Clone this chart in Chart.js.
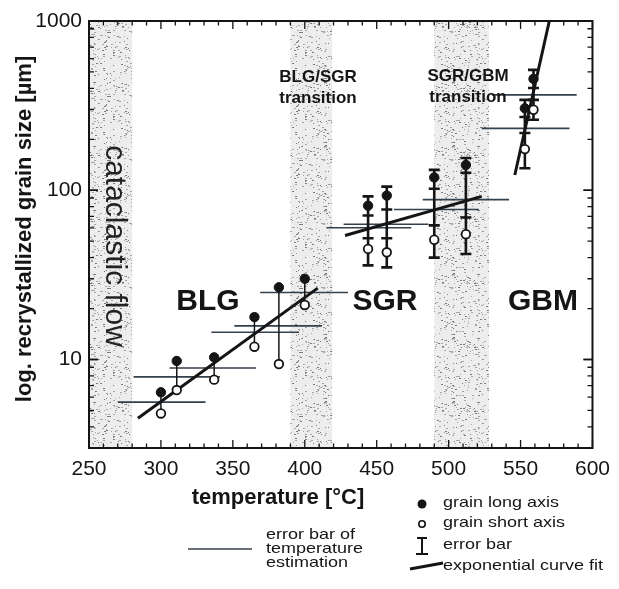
<!DOCTYPE html>
<html><head><meta charset="utf-8">
<script src="https://cdn.jsdelivr.net/npm/chart.js@4/dist/chart.umd.min.js"></script>
<style>html,body{margin:0;padding:0;background:#fff}canvas{display:block}</style>
</head><body>
<canvas id="c" width="619" height="589"></canvas>
<script>
// ---- data ----
const xTicks = [250, 300, 350, 400, 450, 500, 550, 600];
const yTicks = [10, 100, 1000];

const blgT     = [300, 311, 337, 365, 382, 400];
const blgLong  = [6.4, 9.8, 10.3, 17.8, 26.7, 30];
const blgShort = [4.8, 6.6, 7.6, 11.9, 9.4, 21];

const sgrT       = [444, 457, 490, 512];
const sgrLong    = [81, 93, 119, 141];
const sgrLongLo  = [71, 77, 102, 127];
const sgrLongHi  = [92, 105, 132, 155];
const sgrShort   = [45, 43, 51, 55];
const sgrShortLo = [36, 35, 40, 42];
const sgrShortHi = [52, 52, 62, 69];

const gbmT       = [553, 559];
const gbmLong    = [305, 455];
const gbmLongLo  = [271, 402];
const gbmLongHi  = [342, 514];
const gbmShort   = [175, 299];
const gbmShortLo = [135, 261];
const gbmShortHi = [218, 342];

const tempBarLo   = [270, 281, 306, 335, 351, 369, 415, 427, 462, 482, 523, 530];
const tempBarHi   = [331, 341, 366, 396, 412, 430, 474, 486, 521, 542, 584, 589];
const tempBarSize = [5.6, 7.9, 8.9, 14.5, 15.8, 24.9, 60, 63, 77, 88, 232, 366];

const fitBLG_T = [284, 409], fitBLG_V = [4.5, 26.4];
const fitSGR_T = [428, 523], fitSGR_V = [54, 92];
const fitGBM_T = [546, 570], fitGBM_V = [123, 1000];

const bandLo = [250, 390, 490];
const bandHi = [280, 419, 528];

// ---- helpers ----
const ink = '#151515';
const barInk = '#34404c';
const FONT = "'Liberation Sans', Arial, sans-serif";

function hSegs(lo, hi, v) {
  const d = [];
  lo.forEach((l, i) => { d.push({x: l, y: v[i]}, {x: hi[i], y: v[i]}, {x: hi[i], y: null}); });
  return d;
}
function vSegs(t, lo, hi) {
  const d = [];
  t.forEach((tt, i) => { d.push({x: tt, y: lo[i]}, {x: tt, y: hi[i]}, {x: tt, y: null}); });
  return d;
}
function pts(t, v) { return t.map((tt, i) => ({x: tt, y: v[i]})); }
function line(t, v) { return t.map((tt, i) => ({x: tt, y: v[i]})); }

const capData = [].concat(
  pts(sgrT, sgrLongLo), pts(sgrT, sgrLongHi), pts(sgrT, sgrShortLo), pts(sgrT, sgrShortHi),
  pts(gbmT, gbmLongLo), pts(gbmT, gbmLongHi), pts(gbmT, gbmShortLo), pts(gbmT, gbmShortHi)
);

// stipple pattern for the transition bands (deterministic texture)
function makeStipple() {
  const c = document.createElement('canvas'); c.width = 64; c.height = 64;
  const g = c.getContext('2d');
  g.fillStyle = '#ededed'; g.fillRect(0, 0, 64, 64);
  let s = 987654321;
  const nxt = () => { s = (Math.imul(s, 1103515245) + 12345) >>> 0; return s >>> 8; };
  for (let i = 0; i < 260; i++) {
    const x = nxt() % 64, y = nxt() % 64;
    g.fillStyle = (i % 3 === 0) ? '#7a7a7a' : '#a6a6a6';
    g.fillRect(x, y, 1 + (i % 2), 1);
  }
  return c;
}
const stippleCanvas = makeStipple();

function stretchText(ctx, txt, x, y, sx) {
  ctx.save(); ctx.translate(x, y); ctx.scale(sx, 1); ctx.fillText(txt, 0, 0); ctx.restore();
}

const decor = {
  id: 'decor',
  beforeDatasetsDraw(chart) {
    const {ctx, chartArea: a, scales: {x}} = chart;
    const pat = ctx.createPattern(stippleCanvas, 'repeat');
    ctx.save();
    ctx.beginPath(); ctx.rect(a.left, a.top, a.right - a.left, a.bottom - a.top); ctx.clip();
    ctx.fillStyle = pat;
    bandLo.forEach((t0, i) => {
      const x0 = x.getPixelForValue(t0), x1 = x.getPixelForValue(bandHi[i]);
      ctx.fillRect(x0, a.top, x1 - x0, a.bottom - a.top);
    });
    ctx.restore();
  },
  afterDatasetsDraw(chart) {
    const {ctx, chartArea: a, scales: {x, y}} = chart;
    ctx.save();
    // frame
    ctx.strokeStyle = ink; ctx.lineWidth = 2;
    ctx.strokeRect(a.left, a.top, a.right - a.left, a.bottom - a.top);
    // x ticks (inward, top and bottom)
    ctx.lineWidth = 1.3;
    for (let t = 250; t <= 600; t += 10) {
      const px = x.getPixelForValue(t);
      const len = (t % 50 === 0) ? 8 : 4.5;
      ctx.beginPath();
      ctx.moveTo(px, a.bottom); ctx.lineTo(px, a.bottom - len);
      ctx.moveTo(px, a.top); ctx.lineTo(px, a.top + len);
      ctx.stroke();
    }
    // y ticks (log, inward, left and right)
    [1, 10, 100].forEach(dec => {
      for (let m = 1; m <= 10; m++) {
        const v = dec * m;
        if (v < 3 || v > 1000) continue;
        const py = y.getPixelForValue(v);
        const len = (m === 1 || m === 10) ? 9 : 5;
        ctx.beginPath();
        ctx.moveTo(a.left, py); ctx.lineTo(a.left + len, py);
        ctx.moveTo(a.right, py); ctx.lineTo(a.right - len, py);
        ctx.stroke();
      }
    });
    ctx.fillStyle = ink;
    ctx.textAlign = 'center'; ctx.textBaseline = 'middle';
    // region labels
    ctx.save();
    ctx.translate(114, 246); ctx.rotate(Math.PI / 2);
    ctx.fillStyle = '#222';
    ctx.font = "30px " + FONT;
    ctx.fillText('cataclastic flow', 0, 0);
    ctx.restore();
    ctx.font = "bold 30px " + FONT;
    ctx.fillText('BLG', 208, 302);
    ctx.fillText('SGR', 385, 302);
    ctx.fillText('GBM', 543, 302);
    ctx.font = "bold 17px " + FONT;
    ctx.fillText('BLG/SGR', 318, 77);
    ctx.fillText('transition', 318, 98);
    ctx.fillText('SGR/GBM', 468, 76);
    ctx.fillText('transition', 468, 97);
    // axis titles
    ctx.font = "bold 22px " + FONT;
    ctx.fillText('temperature [\u00B0C]', 278, 498);
    ctx.save();
    ctx.translate(25, 229); ctx.rotate(-Math.PI / 2);
    ctx.fillText('log. recrystallized grain size [\u00B5m]', 0, 0);
    ctx.restore();
    // legend
    ctx.textAlign = 'left';
    ctx.font = "15px " + FONT;
    ctx.strokeStyle = barInk; ctx.lineWidth = 1.6;
    ctx.beginPath(); ctx.moveTo(188, 549); ctx.lineTo(252, 549); ctx.stroke();
    stretchText(ctx, 'error bar of', 266, 535, 1.2);
    stretchText(ctx, 'temperature', 266, 549, 1.2);
    stretchText(ctx, 'estimation', 266, 563, 1.2);
    // right legend
    ctx.fillStyle = ink; ctx.strokeStyle = ink;
    ctx.beginPath(); ctx.arc(422, 504, 4.5, 0, Math.PI * 2); ctx.fill();
    ctx.lineWidth = 1.6;
    ctx.beginPath(); ctx.arc(422, 524, 3.2, 0, Math.PI * 2); ctx.stroke();
    ctx.lineWidth = 2;
    ctx.beginPath();
    ctx.moveTo(417, 538); ctx.lineTo(427, 538);
    ctx.moveTo(422, 538); ctx.lineTo(422, 554);
    ctx.moveTo(416, 554); ctx.lineTo(428, 554);
    ctx.stroke();
    ctx.lineWidth = 3;
    ctx.beginPath(); ctx.moveTo(410, 569); ctx.lineTo(443, 563); ctx.stroke();
    stretchText(ctx, 'grain long axis', 443, 503, 1.2);
    stretchText(ctx, 'grain short axis', 443, 523, 1.2);
    stretchText(ctx, 'error bar', 443, 545, 1.2);
    stretchText(ctx, 'exponential curve fit', 443, 566, 1.2);
    ctx.restore();
  }
};

new Chart(document.getElementById('c'), {
  type: 'scatter',
  data: {
    datasets: [
      { label: 'grain short axis', data: [].concat(pts(blgT, blgShort), pts(sgrT, sgrShort), pts(gbmT, gbmShort)),
        pointRadius: 4.3, pointBackgroundColor: '#fff', pointBorderColor: ink, pointBorderWidth: 1.8, showLine: false },
      { label: 'grain long axis', data: [].concat(pts(blgT, blgLong), pts(sgrT, sgrLong), pts(gbmT, gbmLong)),
        pointRadius: 4.7, pointBackgroundColor: ink, pointBorderColor: ink, pointBorderWidth: 1, showLine: false },
      { label: 'fit BLG', data: line(fitBLG_T, fitBLG_V), showLine: true, borderColor: ink, borderWidth: 3, pointRadius: 0 },
      { label: 'fit SGR', data: line(fitSGR_T, fitSGR_V), showLine: true, borderColor: ink, borderWidth: 3, pointRadius: 0 },
      { label: 'fit GBM', data: line(fitGBM_T, fitGBM_V), showLine: true, borderColor: ink, borderWidth: 3, pointRadius: 0 },
      { label: 'caps', data: capData, pointStyle: 'line', pointRadius: 5.5, pointBorderColor: ink, pointBorderWidth: 2.6, showLine: false },
      { label: 'error bars', data: [].concat(vSegs(sgrT, sgrShortLo, sgrLongHi), vSegs(gbmT, gbmShortLo, gbmLongHi)),
        showLine: true, spanGaps: false, borderColor: ink, borderWidth: 2.6, pointRadius: 0 },
      { label: 'BLG stems', data: vSegs(blgT, blgShort, blgLong), showLine: true, spanGaps: false, borderColor: ink, borderWidth: 1.5, pointRadius: 0 },
      { label: 'temperature error', data: hSegs(tempBarLo, tempBarHi, tempBarSize),
        showLine: true, spanGaps: false, borderColor: barInk, borderWidth: 1.6, pointRadius: 0 }
    ]
  },
  options: {
    responsive: false,
    devicePixelRatio: 1,
    animation: false,
    layout: { padding: { left: 0, right: 21, top: 21, bottom: 101 } },
    plugins: { legend: { display: false }, tooltip: { enabled: false } },
    scales: {
      x: {
        type: 'linear', min: 250, max: 600,
        afterBuildTicks: s => { s.ticks = xTicks.map(v => ({value: v})); },
        grid: { display: false, drawTicks: false }, border: { display: false },
        ticks: { font: { family: FONT, size: 21 }, color: ink, padding: 9, maxRotation: 0, autoSkip: false },
        afterFit: s => { s.height = 40; }
      },
      y: {
        type: 'logarithmic', min: 3, max: 1000,
        afterBuildTicks: s => { s.ticks = yTicks.map(v => ({value: v})); },
        grid: { display: false, drawTicks: false }, border: { display: false },
        ticks: { font: { family: FONT, size: 21 }, color: ink, padding: 7, autoSkip: false, callback: v => String(v) },
        afterFit: s => { s.width = 89; }
      }
    }
  },
  plugins: [decor]
});
</script>
</body></html>
